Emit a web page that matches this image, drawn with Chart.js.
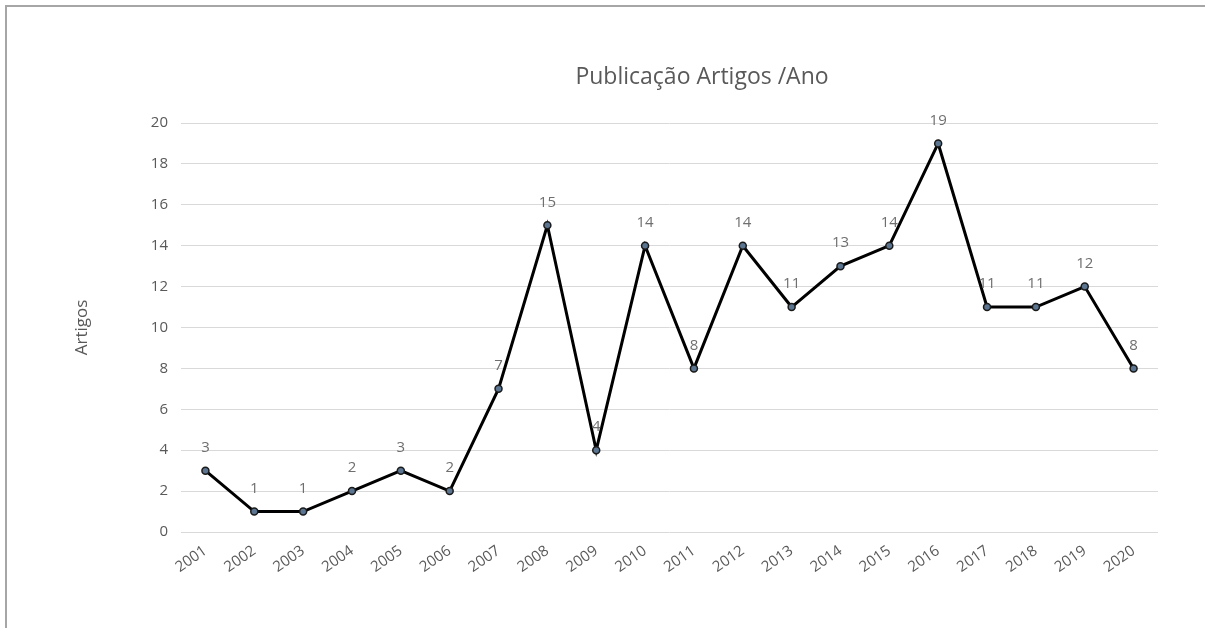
<!DOCTYPE html>
<html>
<head>
<meta charset="utf-8">
<script src="https://cdn.jsdelivr.net/npm/chart.js@4/dist/chart.umd.min.js"></script>
<style>
  html, body { margin: 0; padding: 0; background: #fff; }
  #wrap { position: relative; width: 1205px; height: 628px; overflow: hidden; }
  #frame { position: absolute; left: 5px; top: 5px; width: 1300px; height: 700px;
           border-left: 2px solid #a6a6a6; border-top: 2px solid #a6a6a6; }
  canvas { position: absolute; left: 0; top: 0; }
</style>
</head>
<body>
<div id="wrap">
  <div id="frame"></div>
  <canvas id="c" width="1205" height="628"></canvas>
</div>
<script>
// Articles published per year
const years = ['2001','2002','2003','2004','2005','2006','2007','2008','2009','2010',
               '2011','2012','2013','2014','2015','2016','2017','2018','2019','2020'];
const articles = [3, 1, 1, 2, 3, 2, 7, 15, 4, 14, 8, 14, 11, 13, 14, 19, 11, 11, 12, 8];
const yTicks = [0, 2, 4, 6, 8, 10, 12, 14, 16, 18, 20];

const chartTitle = 'Publicação Artigos /Ano';
const yTitle = 'Artigos';
const FONT = '"Open Sans", sans-serif';
const TEXT = '#595959';

// Title drawn at a fixed spot above the plot
const titlePlugin = {
  id: 'fixedTitle',
  afterDraw(chart) {
    const ctx = chart.ctx;
    ctx.save();
    ctx.font = '23px ' + FONT;
    ctx.fillStyle = TEXT;
    ctx.textAlign = 'center';
    ctx.textBaseline = 'middle';
    ctx.fillText(chartTitle, 702, 77);
    ctx.restore();
  }
};

// Value labels above each point
const valueLabels = {
  id: 'valueLabels',
  afterDatasetsDraw(chart) {
    const ctx = chart.ctx;
    const meta = chart.getDatasetMeta(0);
    const data = chart.data.datasets[0].data;
    ctx.save();
    ctx.font = '15px ' + FONT;
    ctx.fillStyle = '#6f6f6f';
    ctx.textAlign = 'center';
    ctx.textBaseline = 'middle';
    meta.data.forEach((pt, i) => {
      ctx.fillText(String(data[i]), pt.x, pt.y - 23);
    });
    ctx.restore();
  }
};

new Chart(document.getElementById('c'), {
  type: 'line',
  data: {
    labels: years,
    datasets: [{
      data: articles,
      borderColor: '#000000',
      borderWidth: 3,
      tension: 0,
      pointRadius: 3.5,
      pointBackgroundColor: '#5b7590',
      pointBorderColor: '#1a1a1a',
      pointBorderWidth: 1.5,
      clip: false
    }]
  },
  options: {
    responsive: false,
    animation: false,
    devicePixelRatio: 1,
    layout: { padding: { left: 66, right: 47, top: 123, bottom: 0 } },
    plugins: {
      legend: { display: false },
      tooltip: { enabled: false },
      title: { display: false }
    },
    scales: {
      x: {
        offset: true,
        grid: { display: false, drawTicks: false },
        border: { display: false },
        ticks: {
          color: TEXT,
          font: { family: FONT, size: 15 },
          minRotation: 35,
          maxRotation: 35,
          padding: 10
        },
        afterFit(scale) { scale.height = 96; }
      },
      y: {
        min: 0,
        max: 20,
        afterBuildTicks(scale) { scale.ticks = yTicks.map(v => ({ value: v })); },
        grid: { color: '#d9d9d9', lineWidth: 1, drawTicks: false },
        border: { display: false },
        ticks: {
          color: TEXT,
          font: { family: FONT, size: 15 },
          padding: 13
        },
        title: {
          display: true,
          text: yTitle,
          color: TEXT,
          font: { family: FONT, size: 17 },
          padding: { top: 6, bottom: 0 }
        },
        afterFit(scale) { scale.width = 181 - 66; }
      }
    }
  },
  plugins: [titlePlugin, valueLabels]
});
</script>
</body>
</html>
